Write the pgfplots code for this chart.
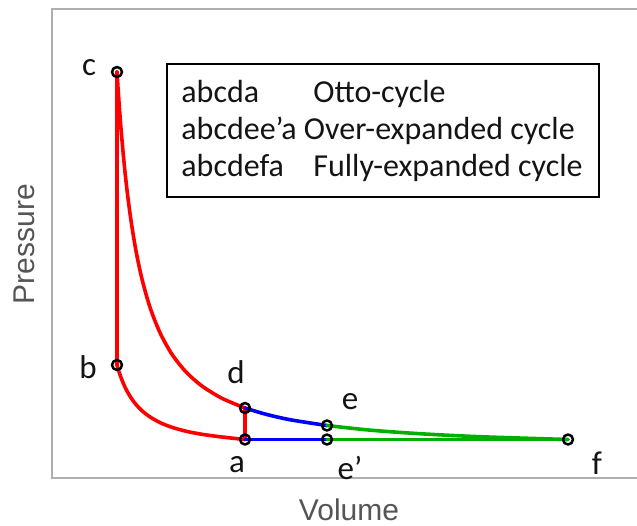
\documentclass[border=0pt]{standalone}
\usepackage{pgfplots}
\pgfplotsset{compat=1.18}
\usepackage{fontspec}
\setmainfont{Carlito}
\newfontfamily\labelfont{Liberation Sans}
\definecolor{cycred}{RGB}{255,0,0}
\definecolor{cycblue}{RGB}{0,0,255}
\definecolor{cycgreen}{RGB}{0,176,0}
\definecolor{framegray}{RGB}{175,175,175}
\definecolor{labelgray}{RGB}{85,85,85}
\definecolor{textdark}{RGB}{20,20,20}
\begin{document}
\begin{tikzpicture}
\begin{axis}[
  scale only axis, width=292.5pt, height=234.5pt,
  xmin=0, xmax=585, ymin=0, ymax=469,
  axis line style={draw=none}, ticks=none, clip=false,
  every axis plot/.append style={line width=1.8pt, line join=round, line cap=round},
]
% frame: left, top and bottom sides only
\draw[framegray, line width=1.1pt] (rel axis cs:1,1) -- (rel axis cs:0,1) -- (rel axis cs:0,0) -- (rel axis cs:1,0);

% Otto cycle a-b-c-d-a
\addplot[cycred] coordinates {(65,113) (65,406)};
\addplot[cycred, smooth] coordinates {
  (65,406) (66,390.3) (67,375.8) (69,349.4) (72,315.9) (75,288.0) (79,257.4)
  (84,227.1) (90,198.9) (98,170.7) (108,145.3) (120,123.7) (134,106.1)
  (150,92.0) (170,79.7) (193,70.0)};
\addplot[cycred] coordinates {(193,70.0) (193,38.5)};
\addplot[cycred, smooth] coordinates {
  (65,113) (66,109.5) (67,106.3) (69,100.5) (72,93.1) (75,87.0) (79,80.2)
  (84,73.5) (90,67.3) (98,61.1) (108,55.4) (120,50.7) (134,46.8)
  (150,43.7) (170,41.0) (193,38.5)};

% over-expansion d-e and a-e'
\addplot[cycblue, smooth] coordinates {(193,70.0) (213,64.0) (238,58.3) (275,52.5)};
\addplot[cycblue] coordinates {(193,38.5) (275,38.5)};

% full expansion e-f and e'-f
\addplot[cycgreen, smooth] coordinates {(275,52.5) (318,47.9) (368,44.3) (428,41.3) (516,38.5)};
\addplot[cycgreen] coordinates {(275,38.5) (516,38.5)};

% state points
\addplot[only marks, mark=o, mark size=2.5pt, black, line width=1.25pt] coordinates {
  (65,406) (65,113) (193,70.0) (193,38.5) (275,52.5) (275,38.5) (516,38.5)};

% state labels
\begin{scope}[every node/.style={font=\fontsize{16.5}{19}\selectfont, text=textdark, inner sep=0pt}]
\node at (axis cs:37,410) {c};
\node at (axis cs:36,111) {b};
\node at (axis cs:184,106) {d};
\node at (axis cs:185,13) {a};
\node at (axis cs:298,76) {e};
\node at (axis cs:298,10) {e’};
\node at (axis cs:545,15) {f};
\end{scope}

% key box
\draw[black, line width=0.85pt] (axis cs:115,281) rectangle (axis cs:547,414);
\begin{scope}[every node/.style={font=\fontsize{16}{19}\selectfont, text=textdark, inner sep=0pt, anchor=base west}]
\node at (axis cs:129,376) {\makebox[66pt][l]{abcda}Otto-cycle};
\node at (axis cs:129,339) {abcdee’a Over-expanded cycle};
\node at (axis cs:129,302) {\makebox[66pt][l]{abcdefa}Fully-expanded cycle};
\end{scope}

% axis titles
\node[font=\labelfont\fontsize{15}{18}\selectfont, text=labelgray, rotate=90] at (axis cs:-28,234) {Pressure};
\node[font=\labelfont\fontsize{15}{18}\selectfont, text=labelgray] at (axis cs:297,-32) {Volume};

\coordinate (bbll) at (axis cs:-52,-47);
\coordinate (bbur) at (axis cs:585,478);
\end{axis}
\pgfresetboundingbox
\useasboundingbox (bbll) rectangle (bbur);
\end{tikzpicture}
\end{document}
